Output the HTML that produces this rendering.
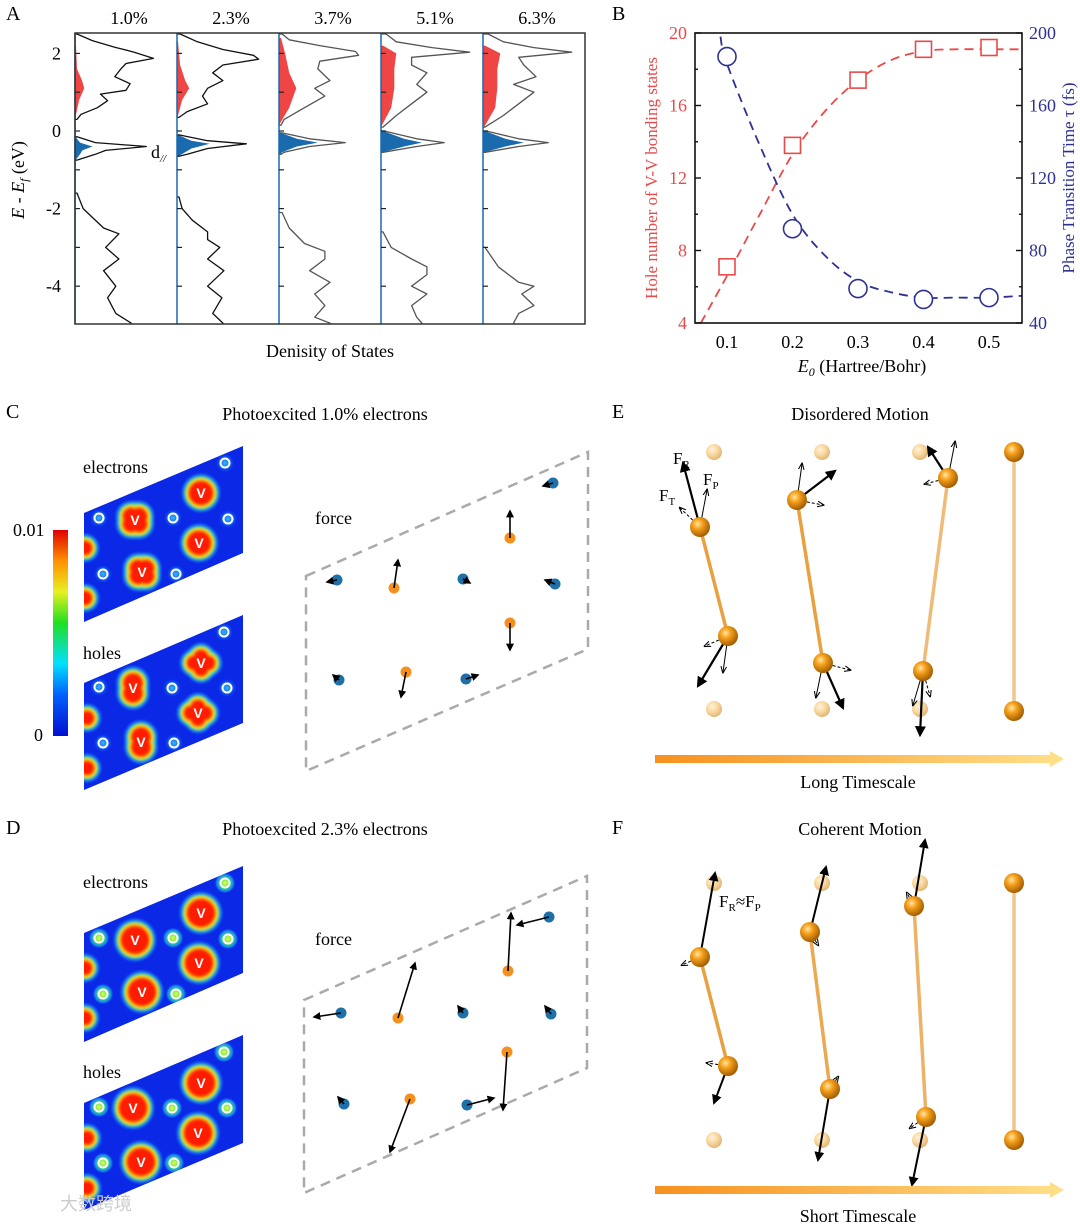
<!DOCTYPE html>
<html><head><meta charset="utf-8">
<style>
html,body{margin:0;padding:0;background:#fff;}
svg{display:block;font-family:"Liberation Serif","Noto Serif CJK SC",serif;}
</style></head>
<body>
<svg id="fig" width="1080" height="1224" viewBox="0 0 1080 1224" xmlns="http://www.w3.org/2000/svg">
<defs>
<radialGradient id="ohalo">
<stop offset="0" stop-color="#40e0ff" stop-opacity="0.8"/><stop offset="0.6" stop-color="#20a0ff" stop-opacity="0.4"/><stop offset="1" stop-color="#0a28e8" stop-opacity="0"/>
</radialGradient>
<radialGradient id="ohaloD">
<stop offset="0" stop-color="#f0ff40"/><stop offset="0.45" stop-color="#40e060"/><stop offset="0.75" stop-color="#20c0ff" stop-opacity="0.6"/><stop offset="1" stop-color="#0a28e8" stop-opacity="0"/>
</radialGradient>
<filter id="soft" x="-10%" y="-10%" width="120%" height="120%"><feGaussianBlur stdDeviation="1.2"/></filter>
<radialGradient id="ball" cx="0.38" cy="0.35" r="0.7">
<stop offset="0" stop-color="#ffe7a8"/><stop offset="0.35" stop-color="#f7a21d"/><stop offset="1" stop-color="#9a5600"/>
</radialGradient>
<radialGradient id="fball" cx="0.38" cy="0.35" r="0.7">
<stop offset="0" stop-color="#fff2d8"/><stop offset="0.5" stop-color="#f8d8a0"/><stop offset="1" stop-color="#e0b070"/>
</radialGradient>
<linearGradient id="cbar" x1="0" y1="1" x2="0" y2="0">
<stop offset="0" stop-color="#0010d0"/><stop offset="0.2" stop-color="#0060ff"/><stop offset="0.35" stop-color="#00e0ff"/><stop offset="0.55" stop-color="#20e020"/><stop offset="0.7" stop-color="#e8f020"/><stop offset="0.85" stop-color="#ff9000"/><stop offset="1" stop-color="#e00000"/>
</linearGradient>
<linearGradient id="tbar" x1="0" y1="0" x2="1" y2="0">
<stop offset="0" stop-color="#f7901e"/><stop offset="1" stop-color="#ffe08a"/>
</linearGradient>
<marker id="ah" viewBox="0 0 10 10" refX="8" refY="5" markerWidth="5" markerHeight="5" orient="auto-start-reverse"><path d="M0,0 L10,5 L0,10 z" fill="#000"/></marker>
<marker id="ahs" viewBox="0 0 10 10" refX="8" refY="5" markerWidth="7" markerHeight="7" orient="auto"><path d="M0,1 L10,5 L0,9" fill="none" stroke="#000" stroke-width="1.5"/></marker>
</defs>

<g font-size="20">
<text x="6" y="20">A</text>
<text x="612" y="20">B</text>
<text x="6" y="418">C</text>
<text x="612" y="418">E</text>
<text x="6" y="834">D</text>
<text x="612" y="834">F</text>
</g>

<g id="panelA"></g>
<g id="panelB"></g>
<g id="maps"></g>
<g id="forces"></g>
<g id="motion"></g>

<g font-size="18" text-anchor="middle">
<text x="325" y="420">Photoexcited 1.0% electrons</text>
<text x="325" y="835">Photoexcited 2.3% electrons</text>
<text x="860" y="420">Disordered Motion</text>
<text x="860" y="835">Coherent Motion</text>
<text x="858" y="788">Long Timescale</text>
<text x="858" y="1222">Short Timescale</text>
</g>
<g font-size="18">
<text x="83" y="473">electrons</text>
<text x="83" y="659">holes</text>
<text x="83" y="888">electrons</text>
<text x="83" y="1078">holes</text>
<text x="315" y="524">force</text>
<text x="315" y="945">force</text>
</g>
<rect x="53" y="530" width="15" height="206" fill="url(#cbar)"/>
<text x="13" y="536" font-size="18">0.01</text>
<text x="34" y="741" font-size="18">0</text>
<text x="60" y="1210" font-size="18" fill="#ccc" font-family="Liberation Sans, Noto Sans CJK SC, sans-serif">大数跨境</text>
</svg>
<script>
const NS='http://www.w3.org/2000/svg';
function mk(tag,attrs,parent,text){const e=document.createElementNS(NS,tag);for(const k in attrs)e.setAttribute(k,attrs[k]);if(text!==undefined)e.textContent=text;parent.appendChild(e);return e;}

/* ===== Panel A: DOS data ===== */
const dosLabels=['1.0%','2.3%','3.7%','5.1%','6.3%'];
const condE=[[2.5,2.33,2.16,2.03,1.87,1.74,1.6,1.4,1.22,1.05,0.95,0.78,0.6,0.43,0.3],[2.5,2.3,2.1,1.95,1.85,1.7,1.5,1.3,1.1,0.9,0.7,0.5,0.35],[2.5,2.35,2.2,2.05,1.95,1.8,1.6,1.3,1.1,0.9,0.6,0.3,0.15],[2.5,2.3,2.15,2.03,1.9,1.7,1.5,1.2,1.0,0.7,0.4,0.1],[2.5,2.3,2.15,2.03,1.9,1.7,1.4,1.2,1.0,0.7,0.4,0.1]];
const condD=[[0.02,0.17,0.39,0.58,0.77,0.5,0.45,0.39,0.54,0.5,0.25,0.32,0.22,0.06,0.02],[0.03,0.2,0.45,0.75,0.8,0.45,0.35,0.45,0.3,0.25,0.3,0.1,0.02],[0.03,0.1,0.4,0.75,0.78,0.4,0.38,0.5,0.35,0.45,0.25,0.05,0.02],[0.05,0.15,0.5,0.87,0.3,0.3,0.45,0.35,0.45,0.3,0.15,0.02],[0.05,0.2,0.5,0.87,0.35,0.4,0.52,0.3,0.5,0.35,0.2,0.02]];
const dpkE=[[-0.15,-0.3,-0.4,-0.5,-0.6,-0.75],[-0.1,-0.25,-0.33,-0.45,-0.6,-0.65],[-0.05,-0.2,-0.3,-0.4,-0.55,-0.6],[0,-0.2,-0.3,-0.4,-0.55],[0,-0.2,-0.3,-0.4,-0.55]];
const dpkD=[[0.02,0.2,0.7,0.3,0.2,0.02],[0.02,0.3,0.68,0.3,0.1,0.02],[0.03,0.3,0.65,0.3,0.05,0.02],[0.03,0.35,0.62,0.35,0.02],[0.03,0.35,0.64,0.35,0.02]];
const valE=[[-1.6,-2.0,-2.2,-2.5,-2.65,-3.0,-3.3,-3.6,-4.0,-4.3,-4.7,-4.95],[-1.7,-2.0,-2.3,-2.6,-2.8,-3.0,-3.3,-3.6,-4.0,-4.3,-4.7,-4.95],[-2.1,-2.5,-2.9,-3.1,-3.3,-3.6,-3.9,-4.2,-4.5,-4.8,-4.95],[-2.6,-3.0,-3.3,-3.5,-3.7,-4.0,-4.2,-4.5,-4.8,-4.95],[-3.0,-3.5,-3.9,-4.0,-4.2,-4.5,-4.7,-4.95]];
const valD=[[0.02,0.08,0.16,0.28,0.43,0.3,0.43,0.28,0.4,0.32,0.4,0.55],[0.02,0.05,0.15,0.3,0.3,0.42,0.3,0.46,0.3,0.44,0.35,0.45],[0.03,0.1,0.25,0.45,0.45,0.3,0.5,0.35,0.45,0.35,0.5],[0.02,0.1,0.3,0.45,0.45,0.3,0.45,0.3,0.35,0.4],[0.02,0.15,0.35,0.5,0.38,0.5,0.35,0.3]];
const redE=[[0.3,0.8,1.1,1.3,1.6,2.2],[0.3,0.8,1.1,1.3,1.7,2.3],[0.15,0.6,1.1,1.5,2.0,2.4],[0.1,0.6,1.1,1.6,2.0,2.2],[0.05,0.6,1.1,1.6,2.0,2.2]];
const redD=[[0,0.04,0.09,0.07,0.02,0.01],[0,0.05,0.12,0.08,0.03,0.01],[0,0.1,0.17,0.1,0.06,0.02],[0,0.1,0.13,0.13,0.15,0.02],[0,0.12,0.14,0.14,0.17,0.02]];
const blueD=[0.17,0.32,0.38,0.4,0.4];
const eTicks=[2,0,-2,-4];
(function(){
  const g=document.getElementById('panelA');
  const top=33,bot=324,left=75,pw=102;
  const yE=e=>131-e*38.8;
  for(let i=0;i<5;i++){
    const x0=left+i*pw;
    const xs=v=>x0+v*pw;
    const pg=mk('g',{},g);
    
    
    const col=i<2?'#111':'#555';
    let d='M'+x0+','+yE(redE[i][0]);
    redE[i].forEach((e,k)=>d+=' L'+xs(redD[i][k]).toFixed(1)+','+yE(e).toFixed(1));
    d+=' L'+x0+','+yE(redE[i][redE[i].length-1])+'Z';
    const rf=mk('path',{d:d,fill:'#f04545'},pg);
    
    
    const bmax=blueD[i];
    const pe=dpkE[i];
    let bd='M'+x0+','+yE(pe[0]);
    pe.forEach((e,k)=>{bd+=' L'+xs(Math.min(dpkD[i][k],1)*bmax/Math.max(...dpkD[i])).toFixed(1)+','+yE(e).toFixed(1);});
    bd+=' L'+x0+','+yE(pe[pe.length-1])+'Z';
    const bf=mk('path',{d:bd,fill:'#1a6aae'},pg);
    
    
    [[condE,condD],[dpkE,dpkD],[valE,valD]].forEach(([E,D])=>{
      let p='M'+x0+','+yE(E[i][0]);
      E[i].forEach((e,k)=>p+=' L'+xs(D[i][k]).toFixed(1)+','+yE(e).toFixed(1));
      if(E===valE) p+=' L'+xs(D[i][D[i].length-1])+','+bot;
      else p+=' L'+x0+','+yE(E[i][E[i].length-1]);
      const c=mk('path',{d:p,fill:'none',stroke:col,'stroke-width':1.3,'stroke-linejoin':'round'},pg);
      
      
    });
    const ax=mk('line',{x1:x0,y1:top,x2:x0,y2:bot,stroke:'#1a6aae','stroke-width':1.5},pg);
    
    
    [2,1,0,-1,-2,-3,-4].forEach(t=>{const tk=mk('line',{x1:x0,x2:x0+5,y1:yE(t),y2:yE(t),stroke:'#222','stroke-width':1.2},pg);
      
      });
    const lb=mk('text',{x:x0+pw/2+3,y:24,'font-size':18,'text-anchor':'middle'},pg,dosLabels[i]);
    
    
  }
  const fr=mk('rect',{x:left,y:top,width:pw*5,height:bot-top,fill:'none',stroke:'#333','stroke-width':1.5},g);
  
  
  eTicks.forEach(t=>{const l=mk('text',{x:61,y:yE(t)+6,'font-size':18,'text-anchor':'end'},g,String(t));
    
    });
  const dl=mk('text',{x:151,y:158,'font-size':18},g);
  
  
  dl.innerHTML='d<tspan font-size="11" dy="4" font-style="italic">//</tspan>';
  const yt=mk('text',{transform:'translate(24,180) rotate(-90)','font-size':18,'text-anchor':'middle'},g);
  
  
  yt.innerHTML='<tspan font-style="italic">E</tspan> - <tspan font-style="italic">E</tspan><tspan font-size="12" dy="4" font-style="italic">f</tspan><tspan dy="-4"> (eV)</tspan>';
  const xt=mk('text',{x:330,y:357,'font-size':18,'text-anchor':'middle'},g,'Denisity of States');
  
  
})();

/* ===== Panel B ===== */
const bX=[0.1,0.2,0.3,0.4,0.5];
const holeNum=[7.1,13.8,17.4,19.1,19.2];
const transTime=[187,92,59,53,54];
const redFitX=[0.06,0.1,0.15,0.2,0.25,0.3,0.35,0.4,0.45,0.5,0.55];
const redFit=[4,6.6,10,13.3,15.7,17.4,18.5,19.0,19.1,19.1,19.1];
const blueFitX=[0.09,0.1,0.15,0.2,0.25,0.3,0.35,0.4,0.45,0.5,0.55];
const blueFit=[198,183,138,100,77,63,57,54,54,54,55];
const leftTicks=[4,8,12,16,20];
const rightTicks=[40,80,120,160,200];
const xTicks=[0.1,0.2,0.3,0.4,0.5];
(function(){
  const g=document.getElementById('panelB');
  const L=695,R=1022,T=33,B=323;
  const xB=v=>727+(v-0.1)*655;
  const yL=v=>B-(v-4)*(B-T)/16;
  const yR=v=>B-(v-40)*(B-T)/160;
  const RED='#e84a4a',BLUE='#2e3192';
  function smooth(pts){let d='M'+pts[0][0]+','+pts[0][1];for(let i=0;i<pts.length-1;i++){const p0=pts[i-1]||pts[i],p1=pts[i],p2=pts[i+1],p3=pts[i+2]||p2;
    d+=' C'+(p1[0]+(p2[0]-p0[0])/6).toFixed(1)+','+(p1[1]+(p2[1]-p0[1])/6).toFixed(1)+' '+(p2[0]-(p3[0]-p1[0])/6).toFixed(1)+','+(p2[1]-(p3[1]-p1[1])/6).toFixed(1)+' '+p2[0].toFixed(1)+','+p2[1].toFixed(1);}return d;}
  const rc=mk('path',{d:smooth(redFitX.map((x,i)=>[xB(x),yL(redFit[i])])),fill:'none',stroke:RED,'stroke-width':1.8,'stroke-dasharray':'9,6'},g);
  
  
  const bc=mk('path',{d:smooth(blueFitX.map((x,i)=>[xB(x),yR(blueFit[i])])),fill:'none',stroke:BLUE,'stroke-width':1.8,'stroke-dasharray':'9,6'},g);
  
  
  bX.forEach((x,i)=>{
    const s=mk('rect',{x:xB(x)-8,y:yL(holeNum[i])-8,width:16,height:16,fill:'#fff',stroke:RED,'stroke-width':1.6},g);
    
    
    const c=mk('circle',{cx:xB(x),cy:yR(transTime[i]),r:9,fill:'#fff',stroke:BLUE,'stroke-width':1.6},g);
    
    
  });
  const fr=mk('rect',{x:L,y:T,width:R-L,height:B-T,fill:'none',stroke:'#111','stroke-width':1.6},g);
  
  
  for(let v=4;v<=20;v+=2){const tk=mk('line',{x1:L,x2:L+(v%4?3:6),y1:yL(v),y2:yL(v),stroke:'#111','stroke-width':1.4},g);
    
    
    const tr=mk('line',{x1:R,x2:R-(v%4?3:6),y1:yL(v),y2:yL(v),stroke:'#111','stroke-width':1.4},g);
    
    }
  leftTicks.forEach(t=>{const l=mk('text',{x:L-8,y:yL(t)+6,'font-size':18,'text-anchor':'end',fill:RED},g,String(t));
    
    });
  rightTicks.forEach(t=>{const l=mk('text',{x:R+7,y:yR(t)+6,'font-size':18,fill:BLUE},g,String(t));
    
    });
  xTicks.forEach(t=>{const l=mk('text',{x:xB(t),y:348,'font-size':18,'text-anchor':'middle'},g,t.toFixed(1));
    
    });
  const yl=mk('text',{transform:'translate(657,178) rotate(-90)','font-size':17,'text-anchor':'middle',fill:RED},g,'Hole number of V-V bonding states');
  
  
  const yr=mk('text',{transform:'translate(1074,178) rotate(-90)','font-size':17,'text-anchor':'middle',fill:BLUE},g,'Phase Transition Time τ (fs)');
  
  
  const xt=mk('text',{x:862,y:372,'font-size':18,'text-anchor':'middle'},g);
  
  
  xt.innerHTML='<tspan font-style="italic">E</tspan><tspan font-style="italic" font-size="12" dy="4">0</tspan><tspan dy="-4"> (Hartree/Bohr)</tspan>';
})();

/* ===== Density maps ===== */
(function(){
  const g=document.getElementById('maps');
  const base={
    el:{poly:[[84,513],[243,446],[243,553],[84,622]],V:[[135,520],[201,493],[199,543],[142,572]],O:[[99,518],[173,518],[228,519],[225,463],[103,574],[176,574]],E:[[85,548],[85,598]],shape:[1,0,0,1]},
    ho:{poly:[[84,683],[243,615],[243,723],[84,790]],V:[[133,688],[201,663],[198,713],[141,742]],O:[[99,687],[172,688],[227,688],[224,632],[103,743],[174,743]],E:[[87,718],[87,768]],shape:[2,3,3,2]}
  };
  const layers=[[7,'#30c8ff',0.55],[4.5,'#30e050',1],[3,'#e8f030',1],[1.8,'#ff9000',1],[0,'#ff1a00',1]];
  function blob(parent,circles){
    const bg=mk('g',{filter:'url(#soft)'},parent);
    
    
    layers.forEach(([dr,col,op])=>{circles.forEach(c=>mk('circle',{cx:c[0],cy:c[1],r:c[2]+dr,fill:col,opacity:op},bg));});
  }
  const sets=[['el',0,'c'],['ho',0,'c'],['el',420,'d'],['ho',420,'d']];
  sets.forEach(([k,dy,p],n)=>{
    const m=base[k];
    const cid='clip'+n;
    const cp=mk('clipPath',{id:cid},g);
    mk('polygon',{points:m.poly.map(q=>q[0]+','+(q[1]+dy)).join(' ')},cp);
    const mg=mk('g',{'clip-path':'url(#'+cid+')'},g);
    
    
    mk('rect',{x:80,y:m.poly[1][1]+dy-5,width:170,height:190,fill:'#0a28e6'},mg);
    m.E.forEach(q=>blob(mg,[[q[0],q[1]+dy,7]]));
    m.O.forEach(q=>{const h=mk('circle',{cx:q[0],cy:q[1]+dy,r:p=='d'?11:10,fill:p=='d'?'url(#ohaloD)':'url(#ohalo)'},mg);
      
      });
    m.V.forEach((q,j)=>{
      const cx=q[0],cy=q[1]+dy;
      const sh=p=='d'?4:m.shape[j];
      let cs;
      if(sh==0) cs=[[cx,cy,12]];
      else if(sh==4) cs=[[cx,cy,14]];
      else if(sh==1) cs=[[cx-4,cy-4,8],[cx+4,cy-4,8],[cx-4,cy+4,8],[cx+4,cy+4,8]];
      else if(sh==2) cs=[[cx,cy-5,9.5],[cx,cy+5,9.5]];
      else cs=[[cx,cy-6,7],[cx,cy+6,7],[cx-7,cy,7],[cx+7,cy,7]];
      blob(mg,cs);
      const t=mk('text',{x:cx,y:cy+5,'font-size':14,'font-family':'Liberation Sans, sans-serif','font-weight':'bold',fill:'#fff','text-anchor':'middle'},mg,'V');
      
      });
    m.O.forEach(q=>{const o=mk('circle',{cx:q[0],cy:q[1]+dy,r:4.5,fill:'none',stroke:'#fff','stroke-width':2},mg);
      
      });
  });
})();

/* ===== Force diagrams ===== */
(function(){
  const g=document.getElementById('forces');
  const frames=[[[306,576],[588,452],[588,649],[306,771]],[[304,1000],[587,876],[587,1068],[304,1193]]];
  frames.forEach((f,i)=>{const pl=mk('polygon',{points:f.map(q=>q.join(',')).join(' '),fill:'none',stroke:'#aaa','stroke-width':2.5,'stroke-dasharray':'10,7'},g);
    
    });
  const atoms=[
    {c:'#1f6fa8',x:337,y:580,tx:327,ty:582},{c:'#1f6fa8',x:463,y:579,tx:470,ty:583},{c:'#1f6fa8',x:555,y:584,tx:545,ty:580},{c:'#1f6fa8',x:553,y:483,tx:543,ty:486},{c:'#1f6fa8',x:339,y:680,tx:333,ty:675},{c:'#1f6fa8',x:466,y:679,tx:478,ty:675},
    {c:'#f5901e',x:394,y:588,tx:398,ty:560},{c:'#f5901e',x:510,y:538,tx:510,ty:511},{c:'#f5901e',x:510,y:623,tx:510,ty:650},{c:'#f5901e',x:406,y:672,tx:401,ty:697},
    {c:'#1f6fa8',x:341,y:1013,tx:314,ty:1017},{c:'#1f6fa8',x:463,y:1013,tx:458,ty:1006},{c:'#1f6fa8',x:549,y:917,tx:517,ty:925},{c:'#1f6fa8',x:551,y:1014,tx:545,ty:1006},{c:'#1f6fa8',x:344,y:1104,tx:338,ty:1097},{c:'#1f6fa8',x:467,y:1105,tx:494,ty:1098},
    {c:'#f5901e',x:398,y:1018,tx:415,ty:963},{c:'#f5901e',x:508,y:971,tx:511,ty:913},{c:'#f5901e',x:507,y:1052,tx:503,ty:1110},{c:'#f5901e',x:410,y:1099,tx:390,ty:1152}
  ];
  atoms.forEach(a=>{
    const c=mk('circle',{cx:a.x,cy:a.y,r:5.5,fill:a.c},g);
    
    
    if(a.tx!==undefined){const l=mk('line',{x1:a.x,y1:a.y,x2:a.tx,y2:a.ty,stroke:'#000','stroke-width':1.6,'marker-end':'url(#ah)'},g);
      
      }
  });
})();

/* ===== Motion diagrams ===== */
(function(){
  const g=document.getElementById('motion');
  [[0,452,709,'e'],[431,883,1140,'f']].forEach(([dy,yt,yb,p])=>{
    [714,822,920].forEach(x=>{[yt,yb].forEach(y=>{const c=mk('circle',{cx:x,cy:y,r:8,fill:'url(#fball)'},g);
      
      });});
  });
  const dimers=[[700,527,728,636,1],[797,500,823,663,1],[948,478,923,671,0.7],[1014,452,1014,711,0.6],[700,957,728,1066,1],[810,932,830,1089,0.9],[914,906,926,1117,0.8],[1014,883,1014,1140,0.6]];
  dimers.forEach(d=>{
    const l=mk('line',{x1:d[0],y1:d[1],x2:d[2],y2:d[3],stroke:'#e9a040','stroke-width':3.5,opacity:d[4]},g);
    
    
  });
  const arrows=[
    [700,527,683,463,2.2,''],[700,527,707,490,1,''],[700,527,680,508,1,'3,2'],
    [728,636,698,686,2.2,''],[728,636,723,672,1,''],[728,636,705,646,1,'3,2'],
    [797,500,835,471,2.2,''],[797,500,802,464,1,''],[797,500,823,505,1,'3,2'],
    [823,663,843,708,2.2,''],[823,663,816,697,1,''],[823,663,850,670,1,'3,2'],
    [948,478,928,447,2.2,''],[948,478,955,442,1,''],[948,478,925,484,1,'3,2'],
    [923,671,920,735,2.2,''],[923,671,913,705,1,''],[923,671,930,696,1,'3,2'],
    [700,957,715,873,2,''],[700,957,682,965,1,'3,2'],[728,1066,714,1103,2,''],[728,1066,707,1063,1,'3,2'],
    [810,932,826,867,2,''],[810,932,818,945,1,'3,2'],[830,1089,818,1160,2,''],[830,1089,838,1077,1,'3,2'],
    [914,906,925,840,2,''],[914,906,907,893,1,'3,2'],[926,1117,912,1185,2,''],[926,1117,910,1128,1,'3,2']
  ];
  arrows.forEach(a=>{const l=mk('line',{x1:a[0],y1:a[1],x2:a[2],y2:a[3],stroke:'#000','stroke-width':a[4],'stroke-dasharray':a[5],'marker-end':a[4]>1.5?'url(#ah)':'url(#ahs)'},g);
    
    });
  dimers.forEach(d=>{[[d[0],d[1]],[d[2],d[3]]].forEach(q=>{const c=mk('circle',{cx:q[0],cy:q[1],r:10,fill:'url(#ball)'},g);
    
    });});
  [[759],[1190]].forEach(([y])=>{
    const b=mk('path',{d:'M655,'+(y-4)+' L1050,'+(y-4)+' L1050,'+(y-8)+' L1064,'+y+' L1050,'+(y+8)+' L1050,'+(y+4)+' L655,'+(y+4)+'Z',fill:'url(#tbar)'},g);
    
    
  });
  const fl=[[673,464,'R'],[703,485,'P'],[659,501,'T']];
  fl.forEach(f=>{const t=mk('text',{x:f[0],y:f[1],'font-size':17},g);
    
    
    t.innerHTML='F<tspan font-size="11" dy="4">'+f[2]+'</tspan>';});
  const fr=mk('text',{x:719,y:907,'font-size':17},g);
  
  
  fr.innerHTML='F<tspan font-size="11" dy="4">R</tspan><tspan dy="-4">≈F</tspan><tspan font-size="11" dy="4">P</tspan>';
})();
</script>
</body></html>
